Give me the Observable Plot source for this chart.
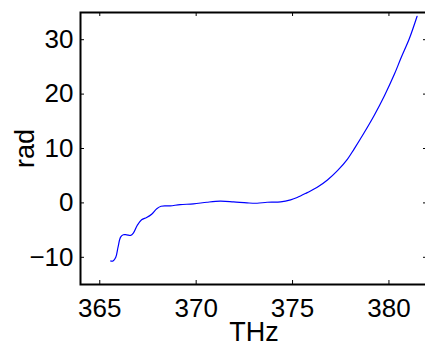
<!DOCTYPE html>
<html>
<head>
<meta charset="utf-8">
<script src="https://cdn.jsdelivr.net/npm/d3@7"></script>
<script src="https://cdn.jsdelivr.net/npm/@observablehq/plot@0.6"></script>
<style>
  html, body { margin: 0; padding: 0; background: #fff; overflow: hidden; }
  svg { overflow: visible; }
  svg text { font-size: 26px; fill: #000; }
  svg g[aria-label="x-axis label"] text, svg g[aria-label="y-axis label"] text { font-size: 27px; }
</style>
</head>
<body>
<div id="chart"></div>
<script>
// Frequency (THz)
const freq = [365.56, 365.69, 365.83, 365.95, 366.08, 366.22, 366.39, 366.60, 366.74, 366.94,
  367.17, 367.43, 367.69, 367.95, 368.18, 368.65, 369.17, 369.86, 370.56, 371.25,
  371.94, 372.64, 373.16, 373.68, 374.38, 374.90, 375.24, 375.76, 376.28, 376.81,
  377.33, 377.85, 378.19, 378.72, 379.24, 379.76, 380.28, 380.63, 381.06, 381.46];
// Phase (rad)
const phase = [-10.68, -10.68, -10.0, -8.1, -6.3, -5.86, -5.86, -5.98, -5.56, -4.15,
  -3.11, -2.69, -2.08, -1.10, -0.61, -0.55, -0.31, -0.18, 0.12, 0.31,
  0.18, 0.0, -0.06, 0.12, 0.18, 0.55, 0.98, 1.89, 2.87, 4.21,
  5.92, 8.06, 9.89, 12.94, 16.12, 19.66, 23.63, 26.68, 30.22, 34.31];
const xTicks = [365, 370, 375, 380];
const yTicks = [-10, 0, 10, 20, 30];
const xDomain = [364, 382];
const yDomain = [-15, 35];

const data = freq.map((f, i) => ({f, p: phase[i]}));

const W = 425, H = 354;
const mL = 80, mR = -2, mT = 12, mB = 70;
const frameW = W - mL - mR, frameH = H - mT - mB;
const tl = 4;

const chart = Plot.plot({
  width: W, height: H,
  marginLeft: mL, marginRight: mR, marginTop: mT, marginBottom: mB,
  style: {fontFamily: "'Liberation Sans', Arial, Helvetica, sans-serif", fontSize: "26px", color: "#000", background: "#fff"},
  x: {domain: xDomain},
  y: {domain: yDomain},
  marks: [
    Plot.line(data, {x: "f", y: "p", stroke: "#0000ff", strokeWidth: 1.2, curve: "catmull-rom"}),
    Plot.tickX(xTicks, {x: d => d, insetTop: frameH - tl, stroke: "#000"}),
    Plot.tickX(xTicks, {x: d => d, insetBottom: frameH - tl, stroke: "#000"}),
    Plot.tickY(yTicks, {y: d => d, insetRight: frameW - tl, stroke: "#000"}),
    Plot.tickY(yTicks, {y: d => d, insetLeft: frameW - tl, stroke: "#000"}),
    Plot.axisX(xTicks, {anchor: "bottom", tickSize: 0, tickPadding: 14, fontSize: 26, label: "THz", labelAnchor: "center", labelArrow: "none", labelOffset: 56}),
    Plot.axisY(yTicks, {anchor: "left", tickSize: 0, tickPadding: 7, fontSize: 26, label: "rad", labelAnchor: "center", labelArrow: "none", labelOffset: 66}),
    Plot.frame({stroke: "#000", strokeWidth: 2})
  ]
});
document.getElementById("chart").appendChild(chart);
</script>
</body>
</html>
